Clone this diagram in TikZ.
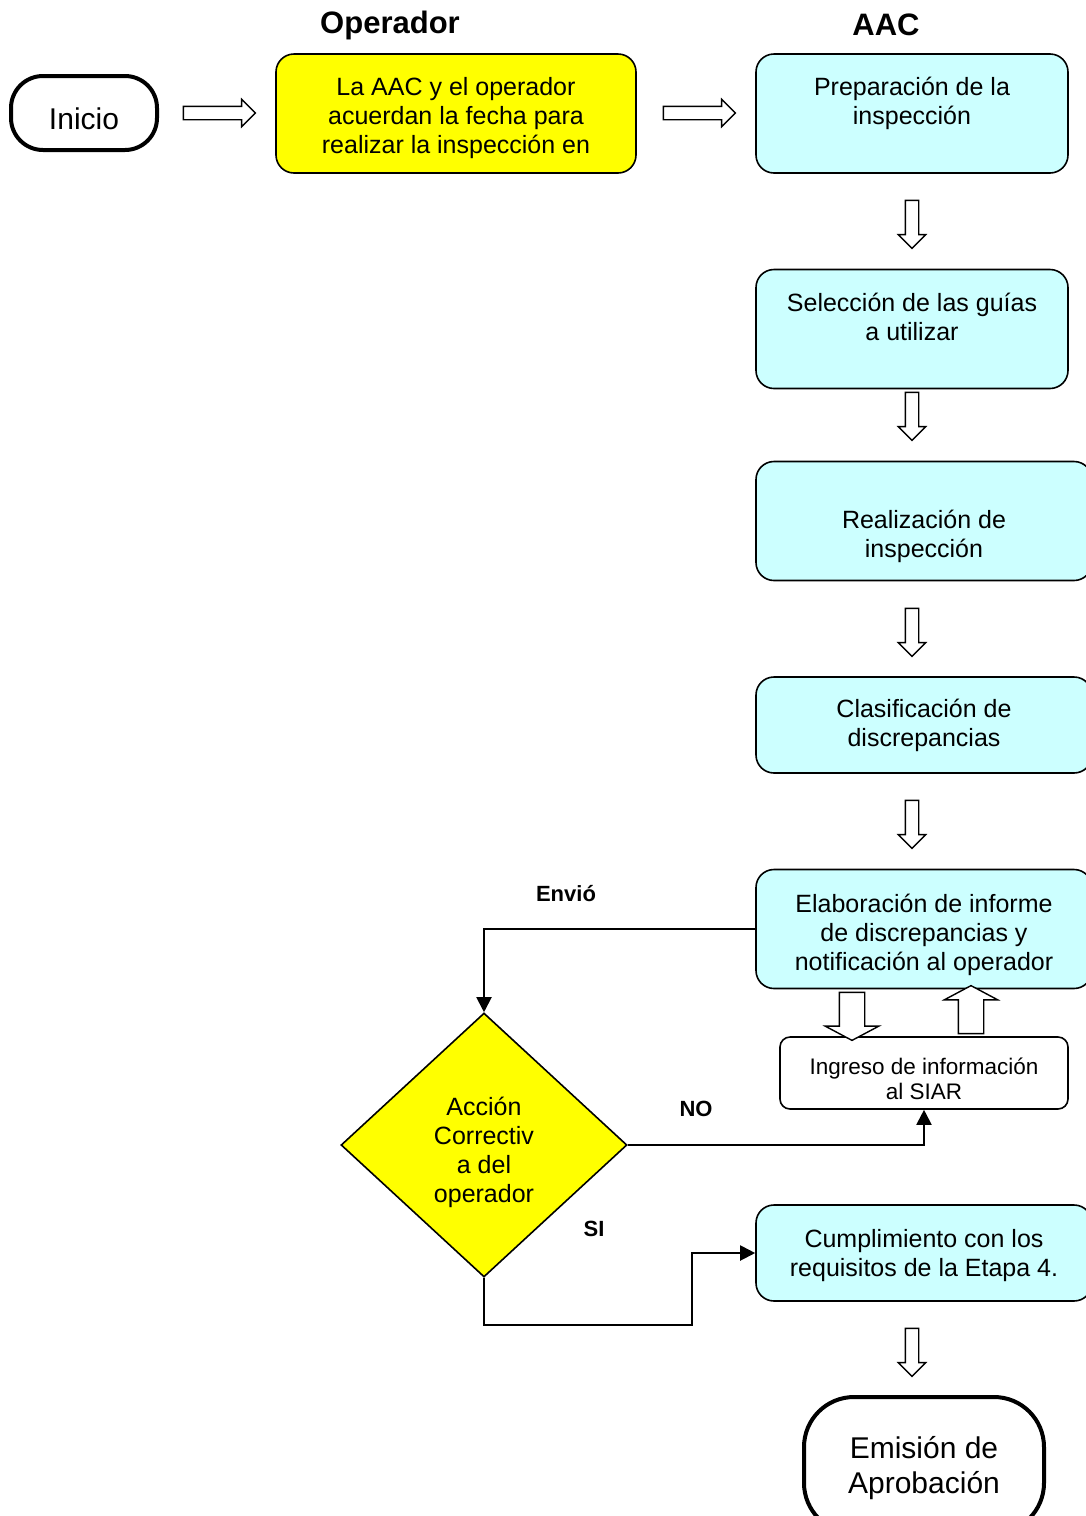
\documentclass[tikz,border=0pt]{standalone}
\usepackage{fontspec}
\setmainfont{Liberation Sans}
\usepackage{tikz}
\usetikzlibrary{shapes.geometric,shapes.arrows,arrows.meta}
\definecolor{aaccyan}{HTML}{CCFFFF}
\definecolor{opyellow}{HTML}{FFFF00}
\newcommand{\topgap}[1]{\rule{0pt}{#1}}

\begin{document}
\begin{tikzpicture}[x=0.5pt,y=-0.5pt,
	txt/.style={font=\fontsize{12.5}{14.5}\selectfont},
	box/.style={draw,line width=0.8pt,rounded corners=9pt,fill=aaccyan,align=center,txt,minimum width=156pt,minimum height=59.5pt},
	widebox/.style={box,minimum width=168pt},
	term/.style={draw,line width=2pt,align=center,font=\fontsize{15}{17.5}\selectfont},
	title/.style={font=\fontsize{15.5}{18}\selectfont\bfseries},
	tag/.style={font=\fontsize{11}{13}\selectfont\bfseries},
	hollow/.style={single arrow,draw,fill=white,line width=0.7pt,minimum width=0pt,minimum height=24pt,inner sep=3pt,single arrow head extend=3.5pt},
	bighollow/.style={hollow,inner sep=6pt,single arrow head extend=7pt,single arrow tip angle=124},
	link/.style={line width=1pt,-{Triangle[length=7.5pt,width=7.5pt]}}]
	\useasboundingbox (0,0) rectangle (1086,1516);
	\node[title] (op) at (390,25) {Operador};
	\node[title] (aac) at (886,25) {AAC};
	\node[term,rounded corners=16pt,minimum width=73pt,minimum height=37pt] (inicio) at (84,113) {\topgap{16.7pt}Inicio};
	\node[box,fill=opyellow,minimum width=180pt] (acuerdo) at (456,113.5) {\topgap{14pt}La AAC y el operador\\acuerdan la fecha para\\realizar la inspección en};
	\node[box] (prep) at (912,113.5) {\topgap{11.4pt}Preparación de la\\inspección\\~};
	\node[box] (sel) at (912,329) {\topgap{11.4pt}Selección de las guías\\a utilizar\\~};
	\node[widebox] (realiz) at (924,521) {\topgap{25pt}Realización de\\inspección};
	\node[widebox,minimum height=48pt] (clasif) at (924,725) {Clasificación de\\discrepancias};
	\node[widebox] (elab) at (924,929) {\topgap{15.4pt}Elaboración de informe\\de discrepancias y\\notificación al operador};
	\node[draw,line width=0.8pt,rounded corners=5pt,fill=white,align=center,font=\fontsize{11.25}{12.5}\selectfont,minimum width=144pt,minimum height=36pt] (siar) at (924,1073) {\topgap{14.1pt}Ingreso de información\\al SIAR};
	\node[diamond,draw,line width=0.8pt,fill=opyellow,align=center,txt,inner sep=0pt,minimum width=143pt,minimum height=132pt] (accion) at (484,1145) {\topgap{16.9pt}Acción\\Correctiv\\a del\\operador};
	\node[widebox,minimum height=48pt] (cumpl) at (924,1253) {\topgap{11.1pt}Cumplimiento con los\\requisitos de la Etapa 4.};
	\node[term,rounded corners=25pt,minimum width=120pt,minimum height=68pt] (emision) at (924,1465) {\topgap{14.3pt}Emisión de\\Aprobación};
	\node[hollow,minimum height=36pt] (h1) at (216,113) {};
	\node[hollow,minimum height=36pt] (h2) at (696,113) {};
	\node[hollow,rotate=-90] (v1) at (912,221) {};
	\node[hollow,rotate=-90] (v2) at (912,413) {};
	\node[hollow,rotate=-90] (v3) at (912,629) {};
	\node[hollow,rotate=-90] (v4) at (912,821) {};
	\node[hollow,rotate=-90] (v5) at (912,1349) {};
	\node[bighollow,rotate=-90] (dn) at (852,1013) {};
	\node[bighollow,rotate=90] (up) at (971,1013) {};
	\draw[link] (elab.west) -| (accion.north);
	\draw[link] (accion.east) -| (siar.south);
	\coordinate (giro) at (692,1325);
	\draw[link] (accion.south) |- (giro) |- (cumpl.west);
	\node[tag] (envio) at (566,894) {Envió};
	\node[tag] (no) at (696,1109) {NO};
	\node[tag] (si) at (594,1229) {SI};
\end{tikzpicture}
\end{document}
